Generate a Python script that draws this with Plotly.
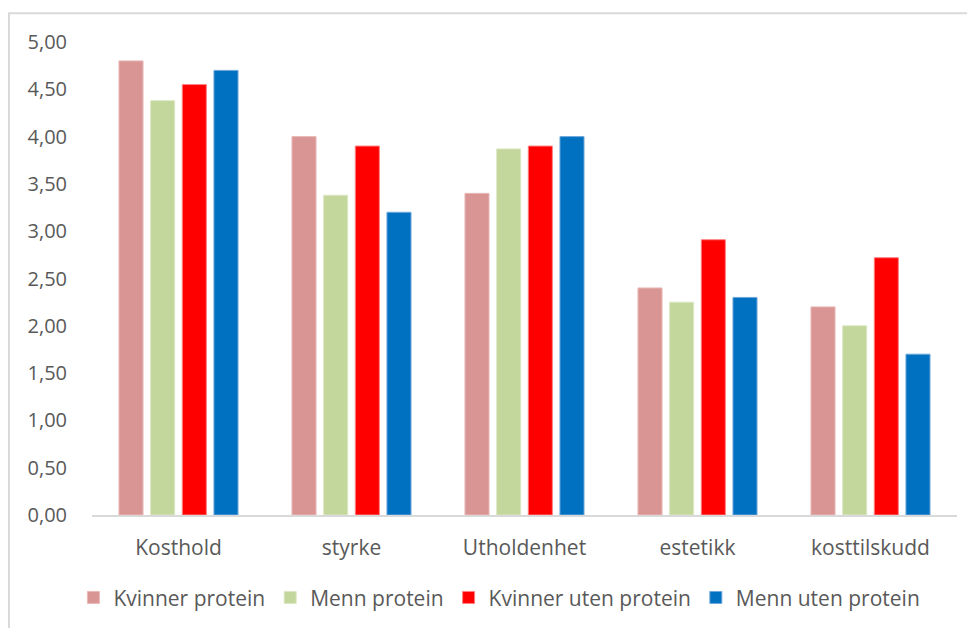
import plotly.graph_objects as go

categories = ["Kosthold", "styrke", "Utholdenhet", "estetikk", "kosttilskudd"]
series_names = ["Kvinner protein", "Menn protein", "Kvinner uten protein", "Menn uten protein"]
kvinner_protein = [4.80, 4.00, 3.40, 2.40, 2.20]
menn_protein = [4.38, 3.38, 3.87, 2.25, 2.00]
kvinner_uten = [4.55, 3.90, 3.90, 2.91, 2.72]
menn_uten = [4.70, 3.20, 4.00, 2.30, 1.70]
colors = ["#D99594", "#C3D69B", "#FF0000", "#0070C0"]
edge_colors = ["#E8B8B7", "#DCE8C4", "#FF8080", "#6FA8DC"]
y_ticks = [0, 0.5, 1, 1.5, 2, 2.5, 3, 3.5, 4, 4.5, 5]
y_tick_labels = ["0,00", "0,50", "1,00", "1,50", "2,00", "2,50", "3,00", "3,50", "4,00", "4,50", "5,00"]

font_family = "Open Sans, DejaVu Sans, sans-serif"
text_color = "#595959"

fig = go.Figure()
for name, vals, c, ec in zip(series_names, [kvinner_protein, menn_protein, kvinner_uten, menn_uten], colors, edge_colors):
    fig.add_trace(go.Bar(x=categories, y=vals, name=name,
                         marker=dict(color=c, line=dict(color=ec, width=1))))

fig.update_layout(
    width=975, height=628,
    paper_bgcolor="white", plot_bgcolor="white",
    margin=dict(l=84, r=26, t=34, b=121),
    barmode="group", bargap=0.268, bargroupgap=0.24,
    font=dict(family=font_family, size=20, color=text_color),
    showlegend=True,
    legend=dict(orientation="h", x=0.471, xanchor="center", y=-0.175, yanchor="middle",
                font=dict(size=21, color=text_color), itemwidth=30, traceorder="normal"),
    xaxis=dict(showline=True, linecolor="#D9D9D9", linewidth=2, ticks="",
               tickfont=dict(size=21, color=text_color), showgrid=False, ticklabelstandoff=13),
    yaxis=dict(range=[0, 5], tickvals=y_ticks, ticktext=y_tick_labels, showgrid=False,
               zeroline=False, showline=False, ticks="", ticklabelstandoff=24,
               tickfont=dict(size=20, color=text_color)),
    shapes=[dict(type="rect", xref="paper", yref="paper", x0=-0.096, x1=1.2, y0=-0.4, y1=1.061,
                 line=dict(color="#D9D9D9", width=2), fillcolor="rgba(0,0,0,0)", layer="below")],
)

fig.write_html("out.html")
